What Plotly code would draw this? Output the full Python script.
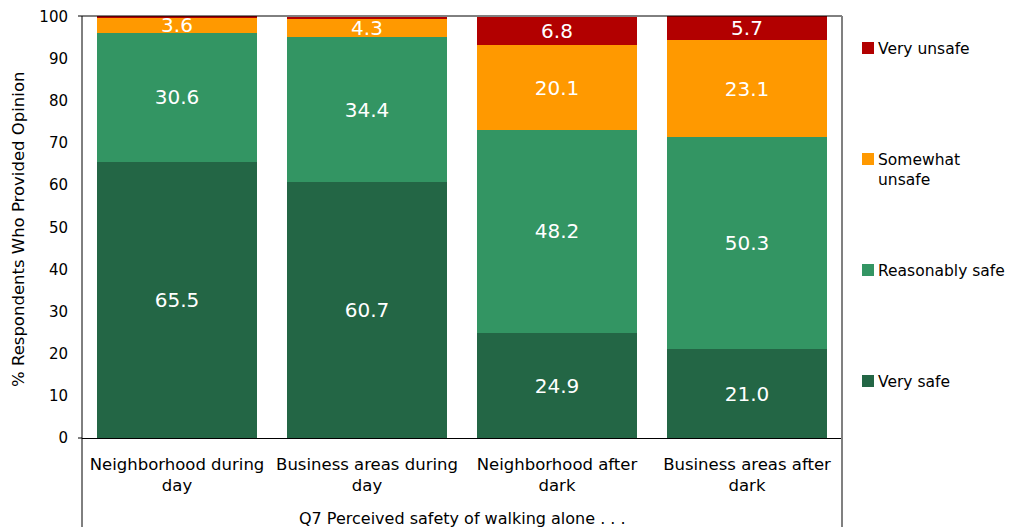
import plotly.graph_objects as go

# Survey results: perceived safety of walking alone (% of respondents with an opinion)
categories = [
    "Neighborhood during<br>day",
    "Business areas during<br>day",
    "Neighborhood after<br>dark",
    "Business areas after<br>dark",
]
very_safe = [65.5, 60.7, 24.9, 21.0]
reasonably_safe = [30.6, 34.4, 48.2, 50.3]
somewhat_unsafe = [3.6, 4.3, 20.1, 23.1]
very_unsafe = [0.3, 0.6, 6.8, 5.7]

series_names = ["Very safe", "Reasonably safe", "Somewhat unsafe", "Very unsafe"]
legend_labels = ["Very safe", "Reasonably safe", "Somewhat<br>unsafe", "Very unsafe"]
series_values = [very_safe, reasonably_safe, somewhat_unsafe, very_unsafe]
colors = ["#236645", "#339563", "#FF9900", "#B20000"]
y_ticks = list(range(0, 101, 10))
x_title = "Q7 Perceived safety of walking alone . . ."
y_title = "% Respondents Who Provided Opinion"

FONT = "DejaVu Sans"
W, H = 1009, 527
L, R, T, B = 82, 842, 16, 438  # plot area in pixels


def px_x(px):
    return (px - L) / (R - L)


def px_y(py):
    return (B - py) / (B - T)


fig = go.Figure()
for name, vals, col in zip(series_names, series_values, colors):
    fig.add_trace(go.Bar(
        x=categories,
        y=vals,
        name=name,
        marker=dict(color=col, line=dict(width=0)),
        text=[f"{v:.1f}" if v >= 1 else "" for v in vals],
        textposition="inside",
        insidetextanchor="middle",
        constraintext="none",
        textangle=0,
        textfont=dict(family=FONT, size=20, color="white"),
        cliponaxis=False,
        showlegend=False,
        hoverinfo="skip",
    ))

shapes = [
    # frame: top edge, left and right sides running down past the category labels
    dict(type="line", xref="paper", yref="paper", x0=0, x1=1, y0=1, y1=1,
         line=dict(color="black", width=1)),
    dict(type="line", xref="paper", yref="paper", x0=0, x1=0, y0=1, y1=px_y(H + 2),
         line=dict(color="black", width=1)),
    dict(type="line", xref="paper", yref="paper", x0=1, x1=1, y0=1, y1=px_y(H + 2),
         line=dict(color="#808080", width=2)),
    # small ticks at 0 and 100
    dict(type="line", xref="paper", yref="paper", x0=px_x(L - 4), x1=0, y0=1, y1=1,
         line=dict(color="black", width=1)),
    dict(type="line", xref="paper", yref="paper", x0=px_x(L - 4), x1=0, y0=0, y1=0,
         line=dict(color="black", width=1)),
]

annotations = [
    dict(text=x_title, xref="paper", yref="paper", x=0.5, y=px_y(518),
         xanchor="center", yanchor="middle", showarrow=False,
         font=dict(family=FONT, size=16, color="black")),
    dict(text=y_title, xref="paper", yref="paper", x=px_x(18), y=px_y(230),
         xanchor="center", yanchor="middle", textangle=-90, showarrow=False,
         font=dict(family=FONT, size=16.5, color="black")),
]

# legend: one row per series, top series first
legend_top = 40
legend_pitch = 111
for i, (label, col) in enumerate(zip(reversed(legend_labels), reversed(colors))):
    top = legend_top + i * legend_pitch
    cy = top + 8
    shapes.append(dict(type="rect", xref="paper", yref="paper",
                       x0=px_x(862), x1=px_x(874), y0=px_y(cy - 6), y1=px_y(cy + 6),
                       fillcolor=col, line=dict(width=0)))
    annotations.append(dict(text=label, xref="paper", yref="paper",
                            x=px_x(876), y=px_y(top - 2), xanchor="left", yanchor="top",
                            align="left", showarrow=False,
                            font=dict(family=FONT, size=15.5, color="black")))

fig.update_layout(
    width=W, height=H,
    margin=dict(l=L, r=W - R, t=T, b=H - B, pad=0),
    barmode="stack",
    bargap=0.163,
    paper_bgcolor="white",
    plot_bgcolor="white",
    font=dict(family=FONT, color="black"),
    shapes=shapes,
    annotations=annotations,
    xaxis=dict(
        showline=True, linecolor="black", linewidth=1,
        showgrid=False, ticks="", ticklabelstandoff=11,
        tickfont=dict(family=FONT, size=16.5, color="black"),
        automargin=False,
    ),
    yaxis=dict(
        range=[0, 100.12], tickvals=y_ticks, showgrid=False, zeroline=False,
        showline=False, ticks="", ticklabelstandoff=13,
        tickfont=dict(family=FONT, size=15, color="black"),
        automargin=False,
    ),
)

fig.write_html("out.html")
